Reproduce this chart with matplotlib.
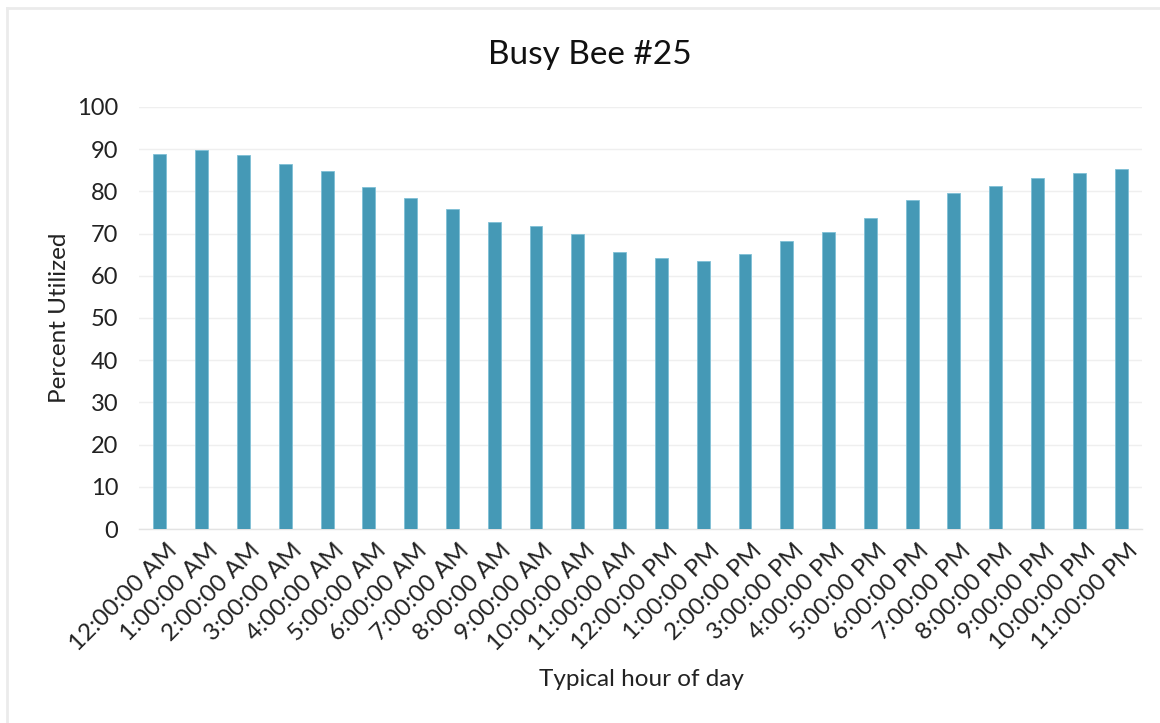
import matplotlib
matplotlib.use("Agg")
import matplotlib.pyplot as plt
from matplotlib.lines import Line2D
from matplotlib.transforms import ScaledTranslation

hours = ["12:00:00 AM", "1:00:00 AM", "2:00:00 AM", "3:00:00 AM", "4:00:00 AM",
         "5:00:00 AM", "6:00:00 AM", "7:00:00 AM", "8:00:00 AM", "9:00:00 AM",
         "10:00:00 AM", "11:00:00 AM", "12:00:00 PM", "1:00:00 PM", "2:00:00 PM",
         "3:00:00 PM", "4:00:00 PM", "5:00:00 PM", "6:00:00 PM", "7:00:00 PM",
         "8:00:00 PM", "9:00:00 PM", "10:00:00 PM", "11:00:00 PM"]
utilized = [88.8, 89.7, 88.6, 86.4, 84.8, 81.0, 78.5, 75.8, 72.7, 71.8, 70.0, 65.7,
            64.1, 63.6, 65.1, 68.2, 70.3, 73.6, 77.9, 79.7, 81.2, 83.1, 84.3, 85.2]
yticks = [0, 10, 20, 30, 40, 50, 60, 70, 80, 90, 100]

plt.rcParams['font.family'] = ['Lato', 'DejaVu Sans']

W, H = 1160, 723
fig = plt.figure(figsize=(W / 100, H / 100), dpi=100)
fig.patch.set_facecolor('white')

# chart border (top and left)
fig.add_artist(Line2D([7 / W, 1], [1 - 8 / H, 1 - 8 / H], color='#EBEBEB', lw=2, transform=fig.transFigure))
fig.add_artist(Line2D([7 / W, 7 / W], [0, 1 - 8 / H], color='#EBEBEB', lw=2, transform=fig.transFigure))

ax = fig.add_axes([139 / W, (H - 529) / H, (1142 - 139) / W, (529 - 107) / H])
x = list(range(len(hours)))
ax.bar(x, utilized, width=0.31, color='#4599B6', edgecolor='#7FC0D6', linewidth=0.6, zorder=3)
ax.set_xlim(-0.5, len(hours) - 0.5)
ax.set_ylim(0, 100)
ax.set_yticks(yticks)
ax.set_yticklabels([str(v) for v in yticks], fontsize=17, color='#222222')
ax.grid(axis='y', color='#EFEFEF', lw=1, zorder=0)
for s in ['top', 'right', 'left']:
    ax.spines[s].set_visible(False)
ax.spines['bottom'].set_color('#E3E3E3')
ax.spines['bottom'].set_linewidth(1)
ax.tick_params(axis='y', length=0, pad=15)
ax.tick_params(axis='x', length=0, pad=8)
ax.set_xticks(x)
ax.set_xticklabels(hours, rotation=45, ha='right', rotation_mode='anchor', fontsize=17.5, color='#222222')
offset = ScaledTranslation(6 / 100, 0, fig.dpi_scale_trans)
for lbl in ax.get_xticklabels():
    lbl.set_transform(lbl.get_transform() + offset)

fig.text(590 / W, 1 - 55 / H, "Busy Bee #25", ha='center', va='center', fontsize=24, color='#111111')
fig.text(641 / W, 1 - 680 / H, "Typical hour of day", ha='center', va='center', fontsize=17.5, color='#222222')
fig.text(60 / W, 1 - 318 / H, "Percent Utilized", ha='center', va='center', rotation=90, fontsize=17.5, color='#222222')

fig.savefig("out.png", dpi=100, facecolor='white')
